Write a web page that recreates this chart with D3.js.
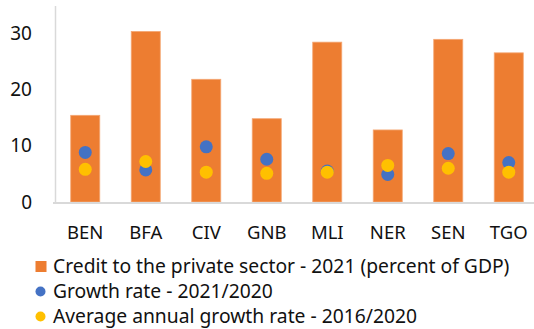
<!DOCTYPE html>
<html>
<head>
<meta charset="utf-8">
<script src="https://cdn.jsdelivr.net/npm/d3@7"></script>
<style>
  html, body { margin: 0; padding: 0; background: #fff; }
  svg { display: block; font-family: "Noto Sans", "Open Sans", sans-serif; }
</style>
</head>
<body>
<svg id="chart" width="534" height="329"></svg>
<script>
// WAEMU countries
const countries = ["BEN", "BFA", "CIV", "GNB", "MLI", "NER", "SEN", "TGO"];
// Credit to the private sector - 2021 (percent of GDP)
const credit = [15.4, 30.3, 21.8, 14.8, 28.4, 12.8, 28.9, 26.5];
// Growth rate - 2021/2020
const growth = [8.8, 5.7, 9.8, 7.6, 5.5, 4.9, 8.6, 7.0];
// Average annual growth rate - 2016/2020
const avgGrowth = [5.8, 7.2, 5.3, 5.1, 5.3, 6.5, 6.0, 5.3];
const yTicks = [0, 10, 20, 30];
const seriesNames = [
  "Credit to the private sector - 2021 (percent of GDP)",
  "Growth rate - 2021/2020",
  "Average annual growth rate - 2016/2020"
];
const colors = ["#ED7D31", "#4472C4", "#FFC000"];

const svg = d3.select("#chart");
const plot = { left: 55, right: 539, top: 5, bottom: 202 };

const x = d3.scaleBand().domain(countries).range([plot.left, plot.right]).paddingInner(0.52).paddingOuter(0.26);
const y = d3.scaleLinear().domain([0, 35]).range([plot.bottom, plot.top]);

// Bars
svg.append("g").selectAll("rect").data(credit).join("rect")
  .attr("x", (d, i) => x(countries[i]))
  .attr("y", d => y(d))
  .attr("width", x.bandwidth())
  .attr("height", d => y(0) - y(d))
  .attr("fill", colors[0])
  .attr("stroke", "#F4A774")
  .attr("stroke-width", 0.8);

// Axes
const yAxis = svg.append("g").attr("transform", `translate(${plot.left},0)`)
  .call(d3.axisLeft(y).tickValues(yTicks).tickSize(0).tickPadding(23));
yAxis.select(".domain").attr("stroke", "#d9d9d9").attr("stroke-width", 1.5)
  .attr("d", `M0.5,${plot.top + 1}V${plot.bottom + 1}`);
yAxis.selectAll("text").attr("font-size", 19).attr("fill", "#111")
  .attr("font-family", "Noto Sans, sans-serif");

const xAxis = svg.append("g").attr("transform", `translate(0,${plot.bottom + 1})`)
  .call(d3.axisBottom(x).tickSize(0).tickPadding(23));
xAxis.select(".domain").attr("stroke", "#d9d9d9").attr("stroke-width", 2)
  .attr("d", `M${plot.left - 2},0H534`);
xAxis.selectAll("text").attr("font-size", 18.5).attr("fill", "#111")
  .attr("font-family", "Noto Sans, sans-serif");

// Growth markers
const r = 6.5;
svg.append("g").selectAll("circle").data(growth).join("circle")
  .attr("cx", (d, i) => x(countries[i]) + x.bandwidth() / 2)
  .attr("cy", d => y(d))
  .attr("r", r)
  .attr("fill", colors[1]);
svg.append("g").selectAll("circle").data(avgGrowth).join("circle")
  .attr("cx", (d, i) => x(countries[i]) + x.bandwidth() / 2)
  .attr("cy", d => y(d))
  .attr("r", r)
  .attr("fill", colors[2]);

// Legend
const legend = svg.append("g");
seriesNames.forEach((name, i) => {
  const cy = 266.5 + i * 25;
  if (i === 0) {
    legend.append("rect").attr("x", 35.5).attr("y", cy - 5.5).attr("width", 11).attr("height", 11).attr("fill", colors[0]);
  } else {
    legend.append("circle").attr("cx", 40.5).attr("cy", cy).attr("r", 5).attr("fill", colors[i]);
  }
  legend.append("text").attr("x", 53).attr("y", cy).attr("dy", "0.35em")
    .attr("font-size", 19.3).attr("fill", "#111").text(name);
});
</script>
</body>
</html>
